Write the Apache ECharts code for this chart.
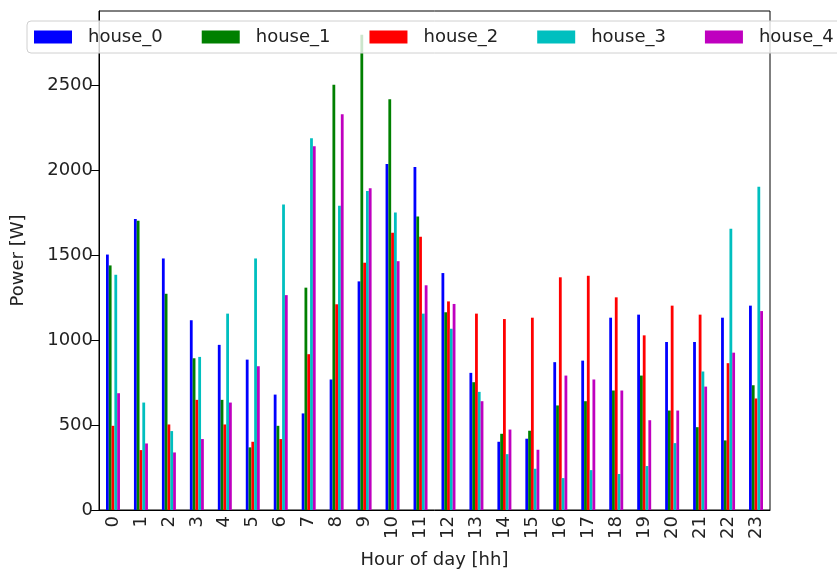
<!DOCTYPE html>
<html>
<head>
<meta charset="utf-8">
<script src="https://cdn.jsdelivr.net/npm/echarts@6/dist/echarts.min.js"></script>
<style>
  html, body { margin: 0; padding: 0; background: #fff; }
  #chart { width: 837px; height: 572px; }
</style>
</head>
<body>
<div id="chart"></div>
<script>
// Mean power per hour of day for five houses
const hours = ['0','1','2','3','4','5','6','7','8','9','10','11','12','13','14','15','16','17','18','19','20','21','22','23'];
const houseNames = ['house_0', 'house_1', 'house_2', 'house_3', 'house_4'];
const house0 = [1505, 1714, 1482, 1118, 973, 886, 680, 569, 769, 1347, 2039, 2021, 1396, 808, 402, 420, 871, 880, 1133, 1151, 990, 990, 1133, 1204];
const house1 = [1441, 1704, 1274, 894, 649, 369, 496, 1310, 2506, 2800, 2420, 1729, 1165, 753, 449, 467, 616, 641, 704, 792, 586, 488, 410, 735];
const house2 = [496, 353, 504, 649, 504, 402, 418, 918, 1212, 1457, 1633, 1610, 1229, 1157, 1125, 1133, 1371, 1380, 1253, 1029, 1204, 1151, 865, 657];
const house3 = [1386, 633, 465, 902, 1157, 1482, 1800, 2190, 1792, 1880, 1753, 1157, 1068, 696, 329, 243, 188, 235, 212, 259, 394, 816, 1657, 1904];
const house4 = [688, 392, 339, 418, 633, 847, 1266, 2143, 2331, 1896, 1466, 1324, 1214, 641, 474, 355, 792, 769, 704, 529, 586, 727, 927, 1172];
const houseColors = ['#0000ff', '#008000', '#ff0000', '#00bfbf', '#bf00bf'];
const yTicks = [0, 500, 1000, 1500, 2000, 2500];

const houseData = [house0, house1, house2, house3, house4];
const font = 'DejaVu Sans';

const chart = echarts.init(document.getElementById('chart'), null, { renderer: 'canvas' });

chart.setOption({
  animation: false,
  backgroundColor: '#ffffff',
  textStyle: { fontFamily: font },
  grid: {
    left: 99, right: 67, top: 11, bottom: 62,
    outerBoundsMode: 'none',
    containLabel: false,
    show: true, borderColor: '#000', borderWidth: 1, backgroundColor: 'transparent'
  },
  legend: {
    data: houseNames,
    orient: 'horizontal',
    left: 27, top: 21,
    width: 840,
    padding: [7, 12, 7, 7],
    itemWidth: 38, itemHeight: 13,
    itemGap: 39,
    icon: 'rect',
    backgroundColor: 'rgba(255,255,255,0.8)',
    borderColor: '#d0d0d0', borderWidth: 1, borderRadius: 4,
    textStyle: { fontFamily: font, fontSize: 18, color: '#222', padding: [0, 0, 0, 11] },
    z: 10
  },
  xAxis: {
    type: 'category',
    data: hours,
    name: 'Hour of day [hh]',
    nameLocation: 'middle',
    nameGap: 41,
    nameMoveOverlap: false,
    nameTextStyle: { fontFamily: font, fontSize: 18, color: '#222' },
    axisLine: { lineStyle: { color: '#000', width: 1 } },
    axisTick: { alignWithLabel: true, length: 8, lineStyle: { color: '#000' } },
    axisLabel: { rotate: 90, fontFamily: font, fontSize: 18, color: '#222', margin: 6, interval: 0 },
    splitLine: { show: false }
  },
  yAxis: {
    type: 'value',
    min: 0, max: 2940, interval: 500,
    name: 'Power [W]',
    nameLocation: 'middle',
    nameGap: 72,
    nameTextStyle: { fontFamily: font, fontSize: 18, color: '#222' },
    axisLine: { show: true, lineStyle: { color: '#000', width: 1 } },
    axisTick: { show: true, length: 8, lineStyle: { color: '#000' } },
    axisLabel: {
      fontFamily: font, fontSize: 18, color: '#222', margin: 6,
      showMaxLabel: false,
      formatter: v => (yTicks.indexOf(v) >= 0 ? String(v) : '')
    },
    splitLine: { show: false }
  },
  series: houseNames.map((name, i) => ({
    name: name,
    type: 'bar',
    data: houseData[i],
    barGap: '0%',
    barCategoryGap: '50%',
    itemStyle: { color: houseColors[i] },
    z: 2
  }))
});
</script>
</body>
</html>
